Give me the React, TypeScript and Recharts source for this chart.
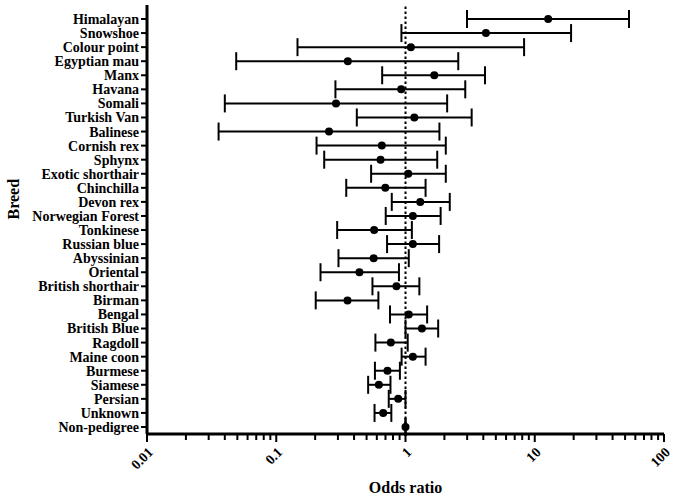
import {
  ComposedChart,
  Line,
  ErrorBar,
  XAxis,
  YAxis,
  ReferenceLine,
} from "recharts";

const breeds = [
  "Himalayan",
  "Snowshoe",
  "Colour point",
  "Egyptian mau",
  "Manx",
  "Havana",
  "Somali",
  "Turkish Van",
  "Balinese",
  "Cornish rex",
  "Sphynx",
  "Exotic shorthair",
  "Chinchilla",
  "Devon rex",
  "Norwegian Forest",
  "Tonkinese",
  "Russian blue",
  "Abyssinian",
  "Oriental",
  "British shorthair",
  "Birman",
  "Bengal",
  "British Blue",
  "Ragdoll",
  "Maine coon",
  "Burmese",
  "Siamese",
  "Persian",
  "Unknown",
  "Non-pedigree",
];

const oddsRatio = [
  12.7, 4.19, 1.1, 0.358, 1.67, 0.926, 0.29, 1.17, 0.256, 0.656, 0.641, 1.05,
  0.698, 1.3, 1.14, 0.572, 1.14, 0.567, 0.44, 0.851, 0.356, 1.06, 1.34, 0.77,
  1.14, 0.725, 0.622, 0.878, 0.672, 1,
];

const lowerCI = [
  2.99, 0.93, 0.146, 0.049, 0.66, 0.287, 0.04, 0.42, 0.0358, 0.205, 0.235,
  0.542, 0.348, 0.783, 0.703, 0.296, 0.72, 0.303, 0.22, 0.555, 0.202, 0.759, 1,
  0.585, 0.933, 0.58, 0.514, 0.742, 0.576, 1,
];

const upperCI = [
  53.6, 19.1, 8.27, 2.56, 4.12, 2.9, 2.1, 3.25, 1.83, 2.05, 1.76, 2.05, 1.43,
  2.2, 1.87, 1.12, 1.82, 1.06, 0.89, 1.28, 0.617, 1.47, 1.79, 1.04, 1.43, 0.905,
  0.765, 1, 0.777, 1,
];

const majorTicks = [0.01, 0.1, 1, 10, 100];

// major + minor ticks for the log axis
const allTicks: number[] = [];
[0.01, 0.1, 1, 10].forEach((d) => {
  for (let k = 1; k < 10; k++) allTicks.push(+(d * k).toPrecision(3));
});
allTicks.push(100);

const data = breeds.map((breed, i) => ({
  breed,
  or: oddsRatio[i],
  err: [oddsRatio[i] - lowerCI[i], upperCI[i] - oddsRatio[i]],
}));

const font = "'Liberation Serif', 'Times New Roman', serif";

function LogTick(props: any) {
  const { x, y, payload } = props;
  const v = payload.value;
  const major = majorTicks.some((m) => Math.abs(m - v) < 1e-9);
  return (
    <g>
      <line
        x1={x}
        x2={x}
        y1={y}
        y2={y + (major ? 8 : 6)}
        stroke="#000"
        strokeWidth={2}
      />
      {major && (
        <text
          transform={`translate(${x + 7}, ${y + 19}) rotate(-45)`}
          textAnchor="end"
          fontFamily={font}
          fontWeight="bold"
          fontSize={14}
          fill="#000"
        >
          {String(v)}
        </text>
      )}
    </g>
  );
}

export default function App() {
  return (
    <div style={{ position: "absolute", left: 0, top: 0, background: "#fff" }}>
      <ComposedChart
        width={674}
        height={499}
        data={data}
        layout="vertical"
        margin={{ top: 5, right: 10, bottom: 0, left: 0 }}
      >
        <XAxis
          type="number"
          dataKey="or"
          scale="log"
          domain={[0.01, 100]}
          ticks={allTicks}
          interval={0}
          allowDataOverflow
          height={65}
          tickLine={false}
          tickSize={0}
          tickMargin={0}
          tick={<LogTick />}
          axisLine={{ stroke: "#000", strokeWidth: 3 }}
          label={{
            value: "Odds ratio",
            position: "insideBottom",
            offset: 6,
            fontFamily: font,
            fontWeight: "bold",
            fontSize: 16,
            fill: "#000",
          }}
        />
        <YAxis
          type="category"
          dataKey="breed"
          width={147}
          interval={0}
          padding={{ top: 14, bottom: 7 }}
          tickSize={6}
          tickMargin={2}
          tickLine={{ stroke: "#000", strokeWidth: 2 }}
          axisLine={{ stroke: "#000", strokeWidth: 3 }}
          tick={{
            fontFamily: font,
            fontWeight: "bold",
            fontSize: 14,
            fill: "#000",
          }}
          label={{
            value: "Breed",
            angle: -90,
            position: "insideLeft",
            offset: 13,
            fontFamily: font,
            fontWeight: "bold",
            fontSize: 16,
            fill: "#000",
          }}
        />
        <ReferenceLine
          x={1}
          stroke="#000"
          strokeWidth={2}
          strokeDasharray="2.5 2.5"
        />
        <Line
          dataKey="or"
          stroke="none"
          isAnimationActive={false}
          dot={{ r: 4, fill: "#000", stroke: "none" }}
          activeDot={false}
        >
          <ErrorBar
            dataKey="err"
            direction="x"
            width={9}
            stroke="#000"
            strokeWidth={2}
          />
        </Line>
      </ComposedChart>
    </div>
  );
}
